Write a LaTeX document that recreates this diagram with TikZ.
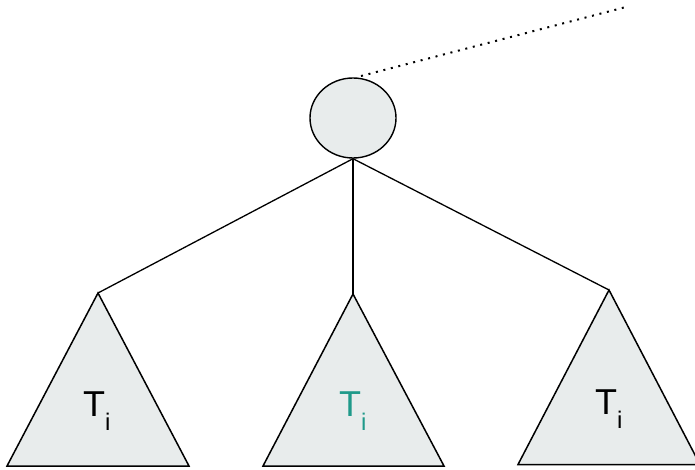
\documentclass[tikz,border=0pt]{standalone}
\usepackage{fontspec}
\setmainfont{Liberation Sans}
\usetikzlibrary{shapes.geometric}
\definecolor{treefill}{HTML}{E8ECEC}
\definecolor{tealtext}{HTML}{1F9A8A}
\tikzset{
  px/.style={x=1pt,y=-1pt},
  treenode/.style={ellipse,draw=black,fill=treefill,line width=1.4pt,
    minimum width=86pt,minimum height=80pt,inner sep=0pt},
  branch/.style={draw=black,line width=1.3pt},
  subtree/.style={draw=black,fill=treefill,line width=1.5pt,line join=miter},
  parentlink/.style={draw=black,line width=2pt,dash pattern=on 2pt off 5.7pt},
  treelabel/.style={anchor=base west,inner sep=0pt,font=\fontsize{36}{36}\selectfont}
}
\newcommand{\subi}{\raisebox{-14pt}{\fontsize{24}{24}\selectfont i}}
\begin{document}
\begin{tikzpicture}[px]
\useasboundingbox (0,0) rectangle (695,470);

% root vertex and the link to its parent
\node[treenode] (root) at (353,118) {};
\coordinate (parent) at (626,7);
\coordinate (rootlink) at (361,76);
\path[parentlink] (rootlink) -- (parent);

% apexes of the three subtrees
\coordinate (a1) at (98,293);
\coordinate (a2) at (353,294);
\coordinate (a3) at (609,290);

% subtrees
\path[subtree] (a1) -- (7,466) -- (189,466) -- cycle;
\path[subtree] (a2) -- (263,466) -- (444,466) -- cycle;
\path[subtree] (a3) -- (518,464.5) -- (700,464.5) -- cycle;

% branches from the root
\path[branch] (root.south) -- (a1);
\path[branch] (root.south) -- (a2);
\path[branch] (root.south) -- (a3);

% subtree labels
\node[treelabel] (t1) at (83,416) {T\subi};
\node[treelabel,text=tealtext] (t2) at (339,416) {T\subi};
\node[treelabel] (t3) at (595,414) {T\subi};
\end{tikzpicture}
\end{document}
